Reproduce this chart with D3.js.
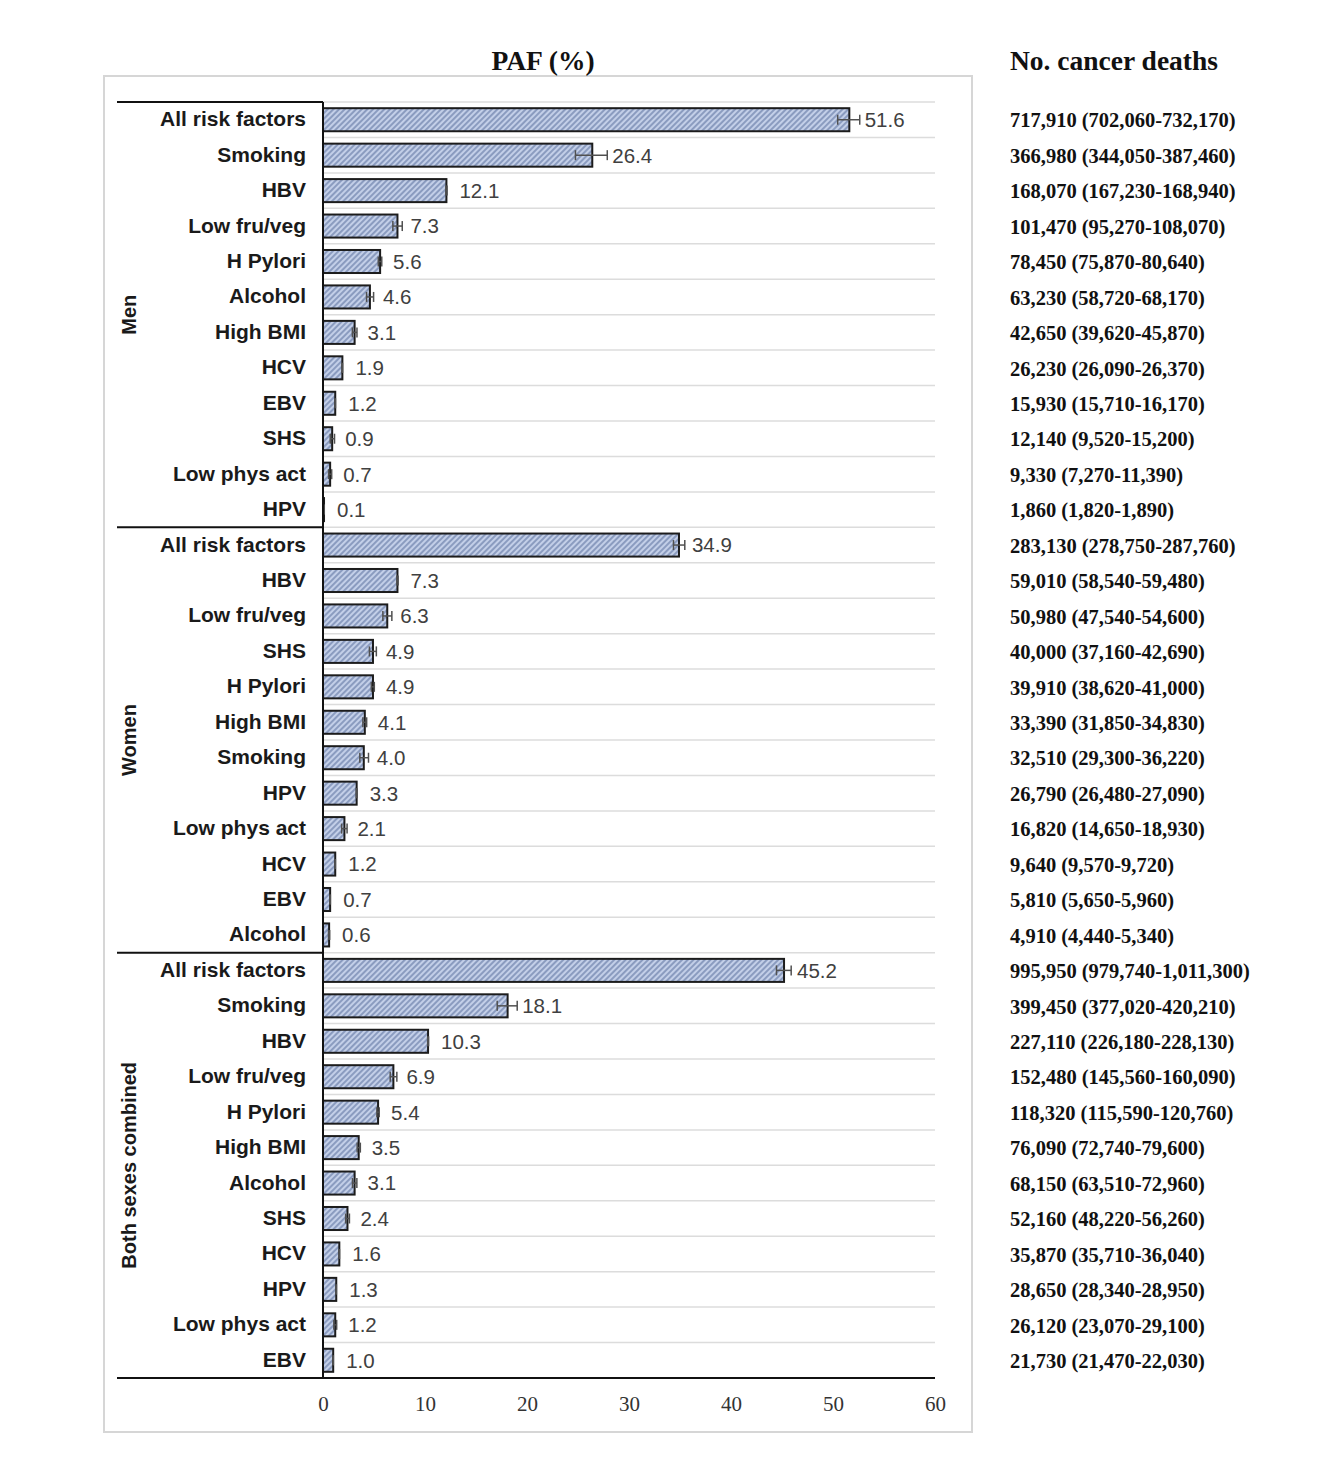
<!DOCTYPE html>
<html><head><meta charset="utf-8">
<script src="https://cdn.jsdelivr.net/npm/d3@7"></script>
<style>body{margin:0;background:#fff;} svg{display:block;}</style>
</head><body>
<script>
const groups = ["Men", "Women", "Both sexes combined"];

const menFactors = ["All risk factors","Smoking","HBV","Low fru/veg","H Pylori","Alcohol","High BMI","HCV","EBV","SHS","Low phys act","HPV"];
const menPAF  = [51.6, 26.4, 12.1, 7.3, 5.6, 4.6, 3.1, 1.9, 1.2, 0.9, 0.7, 0.1];
const menLow  = [50.46, 24.75, 12.04, 6.85, 5.42, 4.27, 2.88, 1.89, 1.18, 0.71, 0.55, 0.098];
const menHigh = [52.62, 27.87, 12.16, 7.77, 5.76, 4.96, 3.33, 1.91, 1.22, 1.13, 0.85, 0.102];
const menDeaths = ["717,910 (702,060-732,170)","366,980 (344,050-387,460)","168,070 (167,230-168,940)","101,470 (95,270-108,070)","78,450 (75,870-80,640)","63,230 (58,720-68,170)","42,650 (39,620-45,870)","26,230 (26,090-26,370)","15,930 (15,710-16,170)","12,140 (9,520-15,200)","9,330 (7,270-11,390)","1,860 (1,820-1,890)"];

const womenFactors = ["All risk factors","HBV","Low fru/veg","SHS","H Pylori","High BMI","Smoking","HPV","Low phys act","HCV","EBV","Alcohol"];
const womenPAF  = [34.9, 7.3, 6.3, 4.9, 4.9, 4.1, 4.0, 3.3, 2.1, 1.2, 0.7, 0.6];
const womenLow  = [34.36, 7.24, 5.87, 4.55, 4.74, 3.91, 3.61, 3.26, 1.83, 1.19, 0.68, 0.54];
const womenHigh = [35.47, 7.36, 6.75, 5.23, 5.03, 4.28, 4.46, 3.34, 2.36, 1.21, 0.72, 0.65];
const womenDeaths = ["283,130 (278,750-287,760)","59,010 (58,540-59,480)","50,980 (47,540-54,600)","40,000 (37,160-42,690)","39,910 (38,620-41,000)","33,390 (31,850-34,830)","32,510 (29,300-36,220)","26,790 (26,480-27,090)","16,820 (14,650-18,930)","9,640 (9,570-9,720)","5,810 (5,650-5,960)","4,910 (4,440-5,340)"];

const bothFactors = ["All risk factors","Smoking","HBV","Low fru/veg","H Pylori","High BMI","Alcohol","SHS","HCV","HPV","Low phys act","EBV"];
const bothPAF  = [45.2, 18.1, 10.3, 6.9, 5.4, 3.5, 3.1, 2.4, 1.6, 1.3, 1.2, 1.0];
const bothLow  = [44.46, 17.08, 10.26, 6.59, 5.28, 3.35, 2.89, 2.22, 1.59, 1.29, 1.06, 0.99];
const bothHigh = [45.90, 19.04, 10.35, 7.24, 5.51, 3.66, 3.32, 2.59, 1.61, 1.31, 1.34, 1.01];
const bothDeaths = ["995,950 (979,740-1,011,300)","399,450 (377,020-420,210)","227,110 (226,180-228,130)","152,480 (145,560-160,090)","118,320 (115,590-120,760)","76,090 (72,740-79,600)","68,150 (63,510-72,960)","52,160 (48,220-56,260)","35,870 (35,710-36,040)","28,650 (28,340-28,950)","26,120 (23,070-29,100)","21,730 (21,470-22,030)"];

const xTicks = [0, 10, 20, 30, 40, 50, 60];

// build rows
const groupData = [
  {name: groups[0], f: menFactors, v: menPAF, lo: menLow, hi: menHigh, d: menDeaths},
  {name: groups[1], f: womenFactors, v: womenPAF, lo: womenLow, hi: womenHigh, d: womenDeaths},
  {name: groups[2], f: bothFactors, v: bothPAF, lo: bothLow, hi: bothHigh, d: bothDeaths}
];
const rows = [];
groupData.forEach((g, gi) => g.f.forEach((f, i) => rows.push({
  key: gi + "_" + i, group: g.name, gi, factor: f, v: g.v[i], lo: g.lo[i], hi: g.hi[i], deaths: g.d[i]
})));

const W = 1327, H = 1483;
const svg = d3.select("body").append("svg").attr("width", W).attr("height", H);

const x = d3.scaleLinear().domain([0, 60]).range([323, 935]);
const y = d3.scaleBand().domain(rows.map(r => r.key)).range([102, 1378]).paddingInner(0.35).paddingOuter(0.175);
const step = y.step();

// frame
svg.append("rect").attr("x", 104).attr("y", 76).attr("width", 868).attr("height", 1356)
  .attr("fill", "none").attr("stroke", "#d6d6d6").attr("stroke-width", 2);

// hatch pattern
const defs = svg.append("defs");
const pat = defs.append("pattern").attr("id", "hatch").attr("patternUnits", "userSpaceOnUse")
  .attr("width", 4).attr("height", 4).attr("patternTransform", "rotate(45)");
pat.append("rect").attr("width", 4).attr("height", 4).attr("fill", "#c3cfe8");
pat.append("line").attr("x1", 1).attr("y1", 0).attr("x2", 1).attr("y2", 4)
  .attr("stroke", "#6c80aa").attr("stroke-width", 1.3);

// titles
svg.append("text").attr("x", 543).attr("y", 70).attr("text-anchor", "middle")
  .attr("font-family", "'Liberation Serif','Times New Roman',serif").attr("font-weight", "bold")
  .attr("font-size", 27.5).attr("fill", "#111").text("PAF (%)");
svg.append("text").attr("x", 1010).attr("y", 70).attr("text-anchor", "start")
  .attr("font-family", "'Liberation Serif','Times New Roman',serif").attr("font-weight", "bold")
  .attr("font-size", 27.5).attr("fill", "#111").text("No. cancer deaths");

// gridlines at row boundaries
const bounds = d3.range(rows.length + 1).map(i => 102 + i * step);
svg.append("g").selectAll("line").data(bounds.slice(0, -1)).join("line")
  .attr("x1", x(0)).attr("x2", x(60)).attr("y1", d => d).attr("y2", d => d)
  .attr("stroke", "#dcdcdc").attr("stroke-width", 1.5);

// bars
svg.append("g").selectAll("rect").data(rows).join("rect")
  .attr("x", x(0)).attr("y", d => y(d.key))
  .attr("width", d => x(d.v) - x(0)).attr("height", y.bandwidth())
  .attr("fill", "url(#hatch)").attr("stroke", "#1c1c1c").attr("stroke-width", 2);

// error bars
const eb = svg.append("g").attr("stroke", "#505050").attr("stroke-width", 1.5);
rows.forEach(r => {
  const cy = y(r.key) + y.bandwidth() / 2;
  eb.append("line").attr("x1", x(r.lo)).attr("x2", x(r.hi)).attr("y1", cy).attr("y2", cy);
  eb.append("line").attr("x1", x(r.lo)).attr("x2", x(r.lo)).attr("y1", cy - 5).attr("y2", cy + 5);
  eb.append("line").attr("x1", x(r.hi)).attr("x2", x(r.hi)).attr("y1", cy - 5).attr("y2", cy + 5);
});

// value labels
svg.append("g").selectAll("text").data(rows).join("text")
  .attr("x", d => Math.max(x(d.v) + 13, x(d.hi) + 5))
  .attr("y", d => y(d.key) + y.bandwidth() / 2 + 2)
  .attr("dominant-baseline", "middle")
  .attr("font-family", "'Liberation Sans',Arial,sans-serif").attr("font-size", 20.5)
  .attr("fill", "#404040").text(d => d.v.toFixed(1));

// category labels
svg.append("g").selectAll("text").data(rows).join("text")
  .attr("x", 306).attr("y", d => y(d.key) + y.bandwidth() / 2 + 1)
  .attr("text-anchor", "end").attr("dominant-baseline", "middle")
  .attr("font-family", "'Liberation Sans',Arial,sans-serif").attr("font-weight", "bold")
  .attr("font-size", 21).attr("fill", "#1a1a1a").text(d => d.factor);

// deaths column
svg.append("g").selectAll("text").data(rows).join("text")
  .attr("x", 1010).attr("y", d => y(d.key) + y.bandwidth() / 2 + 3)
  .attr("dominant-baseline", "middle")
  .attr("font-family", "'Liberation Serif','Times New Roman',serif").attr("font-weight", "bold")
  .attr("font-size", 20.5).attr("fill", "#111").text(d => d.deaths);

// group separators and labels
groupData.forEach((g, gi) => {
  const top = 102 + gi * 12 * step;
  const bot = top + 12 * step;
  svg.append("line").attr("x1", 117).attr("x2", x(0)).attr("y1", top).attr("y2", top)
    .attr("stroke", "#111").attr("stroke-width", 2);
  svg.append("text").attr("transform", `translate(136,${(top + bot) / 2}) rotate(-90)`)
    .attr("text-anchor", "middle")
    .attr("font-family", "'Liberation Sans',Arial,sans-serif").attr("font-weight", "bold")
    .attr("font-size", 20).attr("fill", "#1a1a1a").text(g.name);
});

// y axis line
svg.append("line").attr("x1", x(0)).attr("x2", x(0)).attr("y1", 102).attr("y2", 1378)
  .attr("stroke", "#111").attr("stroke-width", 2);

// x axis
const xAxis = svg.append("g").attr("transform", "translate(0,1378)")
  .call(d3.axisBottom(x).tickValues(xTicks).tickSize(0).tickPadding(18).tickFormat(d3.format("d")));
xAxis.select(".domain").remove();
xAxis.selectAll("text").attr("font-family", "'Liberation Serif','Times New Roman',serif")
  .attr("font-size", 21).attr("fill", "#333");
svg.append("line").attr("x1", 117).attr("x2", x(60)).attr("y1", 1378).attr("y2", 1378)
  .attr("stroke", "#111").attr("stroke-width", 2);
</script>
</body></html>
